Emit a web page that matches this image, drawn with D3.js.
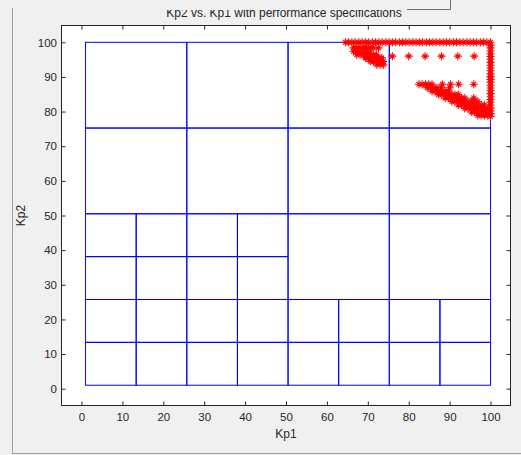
<!DOCTYPE html>
<html>
<head>
<meta charset="utf-8">
<script src="https://cdn.jsdelivr.net/npm/d3@7"></script>
<style>
body{margin:0;background:#f0f0f0}
svg{display:block}
text{font-family:"Liberation Sans",Arial,sans-serif}
</style>
</head>
<body>
<div id="chart"></div>
<script>
// tick labels
const kp1Ticks=[0,10,20,30,40,50,60,70,80,90,100];
const kp2Ticks=[0,10,20,30,40,50,60,70,80,90,100];

// search cells (kp1 from, kp1 to, kp2 from, kp2 to)
const cells=[
  [1,25.75,50.5,75.25],[25.75,50.5,50.5,75.25],[1,25.75,75.25,100],[25.75,50.5,75.25,100],
  [50.5,75.25,50.5,75.25],[75.25,100,50.5,75.25],[50.5,75.25,75.25,100],[75.25,100,75.25,100],
  [1,13.375,1,13.375],[13.375,25.75,1,13.375],[25.75,38.125,1,13.375],[38.125,50.5,1,13.375],
  [1,13.375,13.375,25.75],[13.375,25.75,13.375,25.75],[25.75,38.125,13.375,25.75],[38.125,50.5,13.375,25.75],
  [1,13.375,25.75,38.125],[13.375,25.75,25.75,38.125],[25.75,38.125,25.75,38.125],[38.125,50.5,25.75,38.125],
  [1,13.375,38.125,50.5],[13.375,25.75,38.125,50.5],[25.75,38.125,38.125,50.5],[38.125,50.5,38.125,50.5],
  [50.5,75.25,25.75,50.5],[75.25,100,25.75,50.5],
  [50.5,62.875,1,13.375],[62.875,75.25,1,13.375],[75.25,87.625,1,13.375],[87.625,100,1,13.375],
  [50.5,62.875,13.375,25.75],[62.875,75.25,13.375,25.75],[75.25,87.625,13.375,25.75],[87.625,100,13.375,25.75]
];

// points meeting the specifications
const topEdgeKp1=[64.5,65.3,66.1,66.9,67.8,68.6,69.4,70.2,71.1,71.9,72.7,73.5,74.4,75.2,76.0,76.8,77.7,78.5,79.3,80.1,81.0,81.8,82.6,83.4,84.3,85.1,85.9,86.7,87.6,88.4,89.2,90.0,90.9,91.7,92.5,93.3,94.2,95.0,95.8,96.6,97.5,98.3,99.1,100];
const rightEdgeKp2=[99.2,98.4,97.5,96.7,95.9,95.1,94.2,93.4,92.6,91.8,90.9,90.1,89.3,88.5,87.6,86.8,86.0,85.2,84.3,83.5,82.7,81.9,81.0,80.2,79.4,78.6];
const wedgeRows=[
  [98.4,[66.5,67.3,68.1,68.9,69.7,70.5,71.3,72.6]],
  [97.4,[66.5,67.3,68.1,68.9,69.7,70.5]],
  [96.4,[67.3,68.1,68.9,69.7,70.5,71.3,72.1]],
  [95.5,[69.4,70.2,71.0,71.8,72.6,73.4]],
  [94.5,[70.6,71.4,72.2,73.0,73.8]],
  [93.5,[72.2,73.0,73.8]]
];
const coarseRow=[96,[76,80,84,88,92,96]];
const bandRows=[
  [87.9,[82.5,83.3,84.1,84.9,85.7,88.2,90.2,92.2,95.9]],
  [86.9,[84.5,85.3,86.1,86.9,88.0,90.0]],
  [85.9,[85.7,86.5,87.3,88.1,88.9,89.7]],
  [84.9,[87.3,88.1,88.9,89.7,90.5,91.3,92.1]],
  [83.9,[88.9,89.7,90.5,91.3,92.1,92.9,93.7,95.9]],
  [82.9,[90.5,91.3,92.1,92.9,93.7,94.5,95.3,96.1,96.9]],
  [81.9,[92.1,92.9,93.7,94.5,95.3,96.1,96.9,97.7,98.5]],
  [80.9,[93.7,94.5,95.3,96.1,96.9,97.7,98.5,99.3]],
  [79.9,[95.3,96.1,96.9,97.7,98.5,99.3]],
  [78.9,[96.9,97.7,98.5,99.3]]
];

const points=[];
topEdgeKp1.forEach(k=>points.push([k,100]));
rightEdgeKp2.forEach(k=>points.push([100,k]));
[...wedgeRows,coarseRow,...bandRows].forEach(r=>{
  r[1].forEach(k=>points.push([k,r[0]]));
});

const opt={width:521,height:455,left:61,right:511,top:25,bottom:406}

const svg=d3.select("#chart").append("svg")
  .attr("width",opt.width)
  .attr("height",opt.height)

svg.append("rect").attr("width",opt.width).attr("height",opt.height).attr("fill","#f0f0f0")

// window frame
svg.append("line").attr("x1",12.5).attr("x2",12.5).attr("y1",8).attr("y2",453)
  .attr("stroke","#a0a0a0")
svg.append("line").attr("x1",12).attr("x2",opt.width).attr("y1",453.5).attr("y2",453.5)
  .attr("stroke","#a0a0a0")

const xScale=d3.scaleLinear().domain([-5,105]).range([opt.left,opt.right])
const yScale=d3.scaleLinear().domain([-5,105]).range([opt.bottom,opt.top])

svg.append("rect")
  .attr("x",opt.left).attr("y",opt.top)
  .attr("width",opt.right-opt.left).attr("height",opt.bottom-opt.top)
  .attr("fill","#fff")

svg.append("g").selectAll("rect")
  .data(cells)
  .enter()
  .append("rect")
  .attr("x",d=>xScale(d[0]))
  .attr("y",d=>yScale(d[3]))
  .attr("width",d=>xScale(d[1])-xScale(d[0]))
  .attr("height",d=>yScale(d[2])-yScale(d[3]))
  .attr("fill","none")
  .attr("stroke","#0000ff")
  .attr("stroke-width",1)

const star=r=>{
  const d=r*0.6;
  return "M"+(-r)+",0H"+r+"M0,"+(-r)+"V"+r+"M"+(-d)+","+(-d)+"L"+d+","+d+"M"+(-d)+","+d+"L"+d+","+(-d);
}
svg.append("g").selectAll("path")
  .data(points)
  .enter()
  .append("path")
  .attr("transform",d=>"translate("+xScale(d[0])+","+yScale(d[1])+")")
  .attr("d",star(4))
  .attr("fill","none")
  .attr("stroke","#ff0000")
  .attr("stroke-width",1.1)

// axes, ticks inward on all sides
const tickLen=-4.5;
const styleAxis=g=>{
  g.select(".domain").remove();
  g.selectAll("line").attr("stroke","#262626");
  g.selectAll("text").attr("fill","#262626").attr("font-size","11.5px")
    .attr("font-family","'Liberation Sans',Arial,sans-serif");
}
svg.append("g")
  .attr("transform","translate(0,"+opt.bottom+")")
  .call(d3.axisBottom(xScale).tickValues(kp1Ticks).tickSizeInner(tickLen).tickSizeOuter(0).tickPadding(7))
  .call(styleAxis)
svg.append("g")
  .attr("transform","translate(0,"+opt.top+")")
  .call(d3.axisTop(xScale).tickValues(kp1Ticks).tickSizeInner(tickLen).tickSizeOuter(0).tickFormat(""))
  .call(styleAxis)
svg.append("g")
  .attr("transform","translate("+opt.left+",0)")
  .call(d3.axisLeft(yScale).tickValues(kp2Ticks).tickSizeInner(tickLen).tickSizeOuter(0).tickPadding(4))
  .call(styleAxis)
svg.append("g")
  .attr("transform","translate("+opt.right+",0)")
  .call(d3.axisRight(yScale).tickValues(kp2Ticks).tickSizeInner(tickLen).tickSizeOuter(0).tickFormat(""))
  .call(styleAxis)

svg.append("rect")
  .attr("x",opt.left+0.5).attr("y",opt.top+0.5)
  .attr("width",opt.right-opt.left-1).attr("height",opt.bottom-opt.top-1)
  .attr("fill","none")
  .attr("stroke","#262626")

svg.append("text")
  .attr("x",(opt.left+opt.right)/2)
  .attr("y",438)
  .attr("text-anchor","middle")
  .attr("font-size","12px")
  .attr("fill","#262626")
  .text("Kp1")

svg.append("text")
  .attr("transform","translate(25,"+((opt.top+opt.bottom)/2)+") rotate(-90)")
  .attr("text-anchor","middle")
  .attr("font-size","12px")
  .attr("fill","#262626")
  .text("Kp2")

// title, upper part hidden behind the legend strip
svg.append("text")
  .attr("x",(opt.left+opt.right)/2-2)
  .attr("y",17)
  .attr("text-anchor","middle")
  .attr("font-size","12px")
  .attr("fill","#262626")
  .text("Kp2 vs. Kp1 with performance specifications")
svg.append("rect").attr("x",140).attr("y",0).attr("width",310).attr("height",10)
  .attr("fill","#f0f0f0")
svg.append("path").attr("d","M407,9.5H450.5V0")
  .attr("fill","none").attr("stroke","#707070")
</script>
</body>
</html>
